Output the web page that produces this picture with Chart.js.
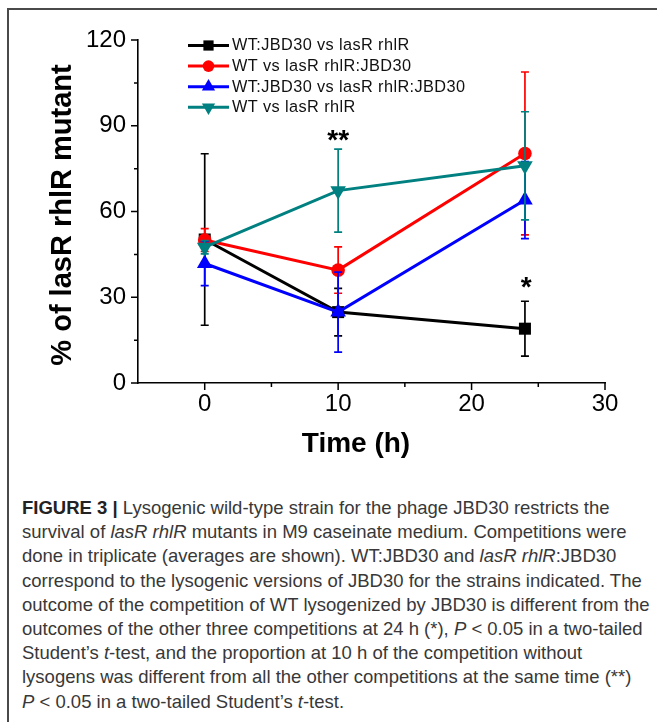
<!DOCTYPE html>
<html><head><meta charset="utf-8">
<script src="https://cdn.jsdelivr.net/npm/chart.js@4.4.0/dist/chart.umd.min.js"></script>
<style>
html,body{margin:0;padding:0;background:#fff;width:657px;height:726px;overflow:hidden;}
#frame{position:absolute;left:7px;top:8px;width:650px;height:714px;border-left:2px solid #4a4a4a;border-top:2px solid #4a4a4a;box-sizing:border-box;}
#wrap{position:absolute;left:0;top:0;width:657px;height:480px;}
#caption{position:absolute;left:22px;top:496px;font-family:"Liberation Sans",Arial,sans-serif;color:#383838;font-size:16.5px;line-height:24.2px;white-space:nowrap;}
#caption div span{display:inline-block;}
#caption b{font-weight:700;color:#222;}
</style></head>
<body>
<div id="frame"></div>
<div id="wrap"><canvas id="c" width="657" height="480"></canvas></div>
<div id="caption">
<div><span><b>FIGURE 3 |</b> Lysogenic wild-type strain for the phage JBD30 restricts the</span></div>
<div><span>survival of <i>lasR rhlR</i> mutants in M9 caseinate medium. Competitions were</span></div>
<div><span>done in triplicate (averages are shown). WT:JBD30 and <i>lasR rhlR</i>:JBD30</span></div>
<div><span>correspond to the lysogenic versions of JBD30 for the strains indicated. The</span></div>
<div><span>outcome of the competition of WT lysogenized by JBD30 is different from the</span></div>
<div><span>outcomes of the other three competitions at 24 h (*), <i>P</i> &lt; 0.05 in a two-tailed</span></div>
<div><span>Student’s <i>t</i>-test, and the proportion at 10 h of the competition without</span></div>
<div><span>lysogens was different from all the other competitions at the same time (**)</span></div>
<div><span><i>P</i> &lt; 0.05 in a two-tailed Student’s <i>t</i>-test.</span></div>
</div>
<script>
// ---- data ----
const times = [0, 10, 24];
const seriesLabels = ['WT:JBD30 vs lasR rhlR', 'WT vs lasR rhlR:JBD30', 'WT:JBD30 vs lasR rhlR:JBD30', 'WT vs lasR rhlR'];
const wtJbdVsMutant = [50.2, 24.8, 19.0];
const wtVsMutantJbd = [50.0, 39.5, 80.3];
const wtJbdVsMutantJbd = [41.8, 24.8, 64.0];
const wtVsMutant = [47.5, 67.3, 76.0];
const errWtJbdVsMutant = [30.0, 8.3, 9.6];
const errWtVsMutantJbd = [4.0, 8.1, 28.5];
const errWtJbdVsMutantJbd = [7.7, 14.0, 13.5];
const errWtVsMutant = [2.3, 14.5, 18.9];
const xMajorTicks = [0, 10, 20, 30];
const xMinorTicks = [5, 15, 25];
const yMajorTicks = [0, 30, 60, 90, 120];
const yMinorTicks = [15, 45, 75, 105];
const sigLabels = ['**', '*'];
const sigX = [10, 24.1];
const sigY = [86.6, 35.3];
const xTitle = 'Time (h)';
const yTitle = '% of lasR rhlR mutant';

// ---- chart ----
const fontFam = '"Liberation Sans", Arial, sans-serif';
// fit caption font so the widest line spans the caption width
(function(){
  const cap = document.getElementById('caption');
  const spans = cap.querySelectorAll('div span');
  let w = 0;
  spans.forEach(s => { w = Math.max(w, s.getBoundingClientRect().width); });
  const fs = 16.5 * 628 / w;
  cap.style.fontSize = fs.toFixed(2) + 'px';
})();

const mk = (label, vals, errs, color, style, radius, rot, order) => ({
  label, data: times.map((t, i) => ({x: t, y: vals[i]})), errs,
  borderColor: color, backgroundColor: color, borderWidth: 3,
  pointStyle: style, pointRadius: radius, pointRotation: rot,
  pointBorderWidth: 0, pointBackgroundColor: color, pointBorderColor: color,
  tension: 0, order, fill: false
});
const datasets = [
  mk(seriesLabels[0], wtJbdVsMutant, errWtJbdVsMutant, '#000000', 'rect', 8.5, 0, 3),
  mk(seriesLabels[1], wtVsMutantJbd, errWtVsMutantJbd, '#ff0000', 'circle', 6.8, 0, 2),
  mk(seriesLabels[2], wtJbdVsMutantJbd, errWtJbdVsMutantJbd, '#0000ff', 'triangle', 9, 0, 1),
  mk(seriesLabels[3], wtVsMutant, errWtVsMutant, '#008080', 'triangle', 9, 180, 0),
];

const errorBars = {
  id: 'errorBars',
  beforeDatasetDraw(chart, args) {
    const ds = chart.data.datasets[args.index];
    const {ctx, scales: {x, y}} = chart;
    ctx.save();
    ctx.strokeStyle = ds.borderColor; ctx.lineWidth = 1.7;
    ds.data.forEach((p, i) => {
      const e = ds.errs[i];
      const px = x.getPixelForValue(p.x);
      const t = y.getPixelForValue(p.y + e), b = y.getPixelForValue(p.y - e);
      ctx.beginPath();
      ctx.moveTo(px, t); ctx.lineTo(px, b);
      ctx.moveTo(px - 4, t); ctx.lineTo(px + 4, t);
      ctx.moveTo(px - 4, b); ctx.lineTo(px + 4, b);
      ctx.stroke();
    });
    ctx.restore();
  }
};

const decor = {
  id: 'decor',
  afterDraw(chart) {
    const {ctx, scales: {x, y}, chartArea: ca} = chart;
    ctx.save();
    ctx.strokeStyle = '#000'; ctx.lineWidth = 1.5;
    ctx.beginPath();
    xMajorTicks.forEach(v => { const p = x.getPixelForValue(v); ctx.moveTo(p, ca.bottom); ctx.lineTo(p, ca.bottom + 7); });
    xMinorTicks.forEach(v => { const p = x.getPixelForValue(v); ctx.moveTo(p, ca.bottom); ctx.lineTo(p, ca.bottom + 4); });
    yMajorTicks.forEach(v => { const p = y.getPixelForValue(v); ctx.moveTo(ca.left, p); ctx.lineTo(ca.left - 7, p); });
    yMinorTicks.forEach(v => { const p = y.getPixelForValue(v); ctx.moveTo(ca.left, p); ctx.lineTo(ca.left - 4, p); });
    ctx.stroke();

    // axis titles
    ctx.fillStyle = '#000';
    ctx.font = 'bold 28px ' + fontFam;
    ctx.textAlign = 'center'; ctx.textBaseline = 'middle';
    ctx.fillText(xTitle, 356, 444);
    ctx.save();
    ctx.translate(63, 215); ctx.rotate(-Math.PI / 2);
    ctx.font = 'bold 29px ' + fontFam;
    ctx.fillText(yTitle, 0, 0);
    ctx.restore();

    // significance marks
    ctx.font = 'bold 28px ' + fontFam;
    ctx.textBaseline = 'alphabetic';
    sigLabels.forEach((s, i) => {
      ctx.fillText(s, x.getPixelForValue(sigX[i]), y.getPixelForValue(sigY[i]) + 14);
    });

    // legend
    const rowY0 = 45.5, rowGap = 20.6;
    chart.data.datasets.forEach((ds, i) => {
      const ry = rowY0 + i * rowGap;
      ctx.strokeStyle = ds.borderColor; ctx.lineWidth = 3;
      ctx.beginPath(); ctx.moveTo(188, ry); ctx.lineTo(229, ry); ctx.stroke();
      ctx.fillStyle = ds.backgroundColor; ctx.strokeStyle = ds.borderColor;
      Chart.helpers.drawPoint(ctx, {pointStyle: ds.pointStyle, radius: ds.pointRadius * 0.85, rotation: ds.pointRotation, borderWidth: 0}, 208.5, ry);
      ctx.fillStyle = '#111';
      ctx.font = '16.3px ' + fontFam;
      ctx.letterSpacing = '0.4px';
      ctx.textAlign = 'left'; ctx.textBaseline = 'middle';
      ctx.fillText(ds.label, 232, ry + 0.5);
      ctx.letterSpacing = '0px';
    });
    ctx.restore();
  }
};

new Chart(document.getElementById('c'), {
  type: 'line',
  data: {datasets},
  options: {
    responsive: false, animation: false,
    layout: {padding: {top: 40, right: 52, left: 0, bottom: 0}},
    plugins: {legend: {display: false}, tooltip: {enabled: false}},
    scales: {
      x: {
        type: 'linear', min: -5, max: 30,
        afterBuildTicks: s => { s.ticks = xMajorTicks.map(v => ({value: v})); },
        afterFit: s => { s.height = 97; },
        grid: {display: false, drawTicks: false},
        border: {display: true, color: '#000', width: 1.6},
        ticks: {padding: 7, color: '#000', font: {family: fontFam, size: 24}, autoSkip: false, maxRotation: 0}
      },
      y: {
        type: 'linear', min: 0, max: 120,
        afterBuildTicks: s => { s.ticks = yMajorTicks.map(v => ({value: v})); },
        afterFit: s => { s.width = 138; },
        grid: {display: false, drawTicks: false},
        border: {display: true, color: '#000', width: 1.6},
        ticks: {padding: 12, color: '#000', font: {family: fontFam, size: 24}, autoSkip: false}
      }
    }
  },
  plugins: [errorBars, decor]
});
</script>
</body></html>
